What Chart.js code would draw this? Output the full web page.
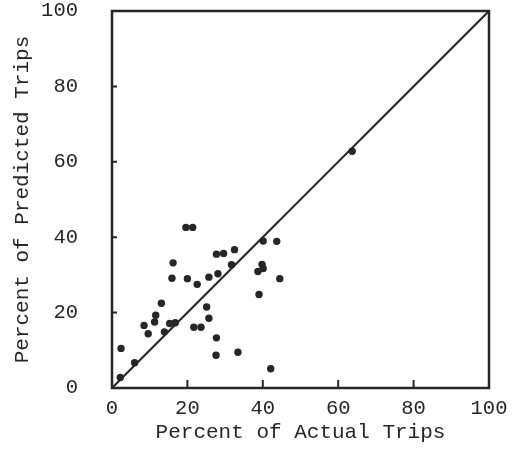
<!DOCTYPE html>
<html>
<head>
<meta charset="utf-8">
<script src="https://cdn.jsdelivr.net/npm/chart.js@4"></script>
<style>
    html, body { margin: 0; padding: 0; background: #fff; }
    #box { width: 514px; height: 451px; }
</style>
</head>
<body>
<div id="box"><canvas id="chart-nuage"></canvas></div>
<script>
// ---------------------------------------------------------------------------
// DONNÉES
// ---------------------------------------------------------------------------

const actualTrips = [
    63.7, 19.6, 21.4, 40.1, 43.7, 32.5, 27.7, 29.6, 16.2, 31.7,
    39.8, 40.1, 38.7, 28.1, 15.9, 20.0, 25.7, 44.5, 22.6, 39.0,
    13.1, 25.1, 11.6, 25.7, 11.3, 8.5, 15.3, 16.8, 9.6, 13.9,
    21.7, 23.6, 27.7, 27.6, 33.4, 42.1, 2.4, 6.0, 2.2,
];
const predictedTrips = [
    62.8, 42.6, 42.6, 39.0, 38.9, 36.7, 35.5, 35.7, 33.2, 32.7,
    32.8, 31.7, 30.9, 30.3, 29.1, 29.0, 29.4, 29.0, 27.5, 24.8,
    22.5, 21.5, 19.3, 18.5, 17.5, 16.6, 17.1, 17.3, 14.4, 14.9,
    16.1, 16.1, 13.3, 8.7, 9.5, 5.1, 10.5, 6.7, 2.8,
];
const egaliteX = [0, 100];
const egaliteY = [0, 100];
const graduations = [0, 20, 40, 60, 80, 100];

const POLICE = "'Liberation Mono', 'DejaVu Sans Mono', monospace";
const ENCRE  = '#262626';

// ---------------------------------------------------------------------------
// CADRE + GRADUATIONS INTÉRIEURES
// ---------------------------------------------------------------------------

const cadrePlugin = {
    id: 'cadre',
    afterDatasetsDraw(chart) {
        const { ctx, chartArea: a, scales: { x, y } } = chart;
        ctx.save();
        ctx.strokeStyle = ENCRE;
        ctx.lineWidth = 2.5;
        ctx.strokeRect(a.left, a.top, a.right - a.left, a.bottom - a.top);
        ctx.lineWidth = 2;
        ctx.beginPath();
        graduations.slice(1, -1).forEach(v => {
            const px = x.getPixelForValue(v);
            ctx.moveTo(px, a.bottom);
            ctx.lineTo(px, a.bottom - 8);
            const py = y.getPixelForValue(v);
            ctx.moveTo(a.left, py);
            ctx.lineTo(a.left + 5, py);
        });
        ctx.stroke();
        ctx.restore();
    },
};

// ---------------------------------------------------------------------------
// GRAPHIQUE
// ---------------------------------------------------------------------------

new Chart(document.getElementById('chart-nuage'), {
    type: 'scatter',
    data: {
        datasets: [
            {
                data: actualTrips.map((v, i) => ({ x: v, y: predictedTrips[i] })),
                backgroundColor: ENCRE,
                borderWidth: 0,
                pointRadius: 3.7,
            },
            {
                type: 'line',
                data: egaliteX.map((v, i) => ({ x: v, y: egaliteY[i] })),
                borderColor: ENCRE,
                borderWidth: 2,
                pointRadius: 0,
                fill: false,
            },
        ],
    },
    options: {
        responsive: true,
        maintainAspectRatio: false,
        animation: false,
        layout: { padding: { left: 0, right: 25, top: 11, bottom: 0 } },
        plugins: { legend: { display: false }, tooltip: { enabled: false } },
        scales: {
            x: {
                type: 'linear', min: 0, max: 100,
                grid: { display: false, drawTicks: false },
                border: { display: false },
                afterBuildTicks: s => { s.ticks = graduations.map(v => ({ value: v })); },
                afterFit: s => { s.height = 63; s.paddingLeft = 0; s.paddingRight = 0; },
                ticks: { padding: 8, color: ENCRE, font: { family: POLICE, size: 20.5 } },
                title: {
                    display: true, text: 'Percent of Actual Trips',
                    color: ENCRE, font: { family: POLICE, size: 21 },
                    padding: { top: 0, bottom: 6 },
                },
            },
            y: {
                type: 'linear', min: 0, max: 100,
                grid: { display: false, drawTicks: false },
                border: { display: false },
                afterBuildTicks: s => { s.ticks = graduations.map(v => ({ value: v })); },
                afterFit: s => { s.width = 112; s.paddingTop = 0; s.paddingBottom = 0; },
                ticks: { padding: 34, color: ENCRE, font: { family: POLICE, size: 20.5 } },
                title: {
                    display: true, text: 'Percent of Predicted Trips',
                    color: ENCRE, font: { family: POLICE, size: 21 },
                    padding: { top: 10, bottom: 0 },
                },
            },
        },
    },
    plugins: [cadrePlugin],
});
</script>
</body>
</html>
